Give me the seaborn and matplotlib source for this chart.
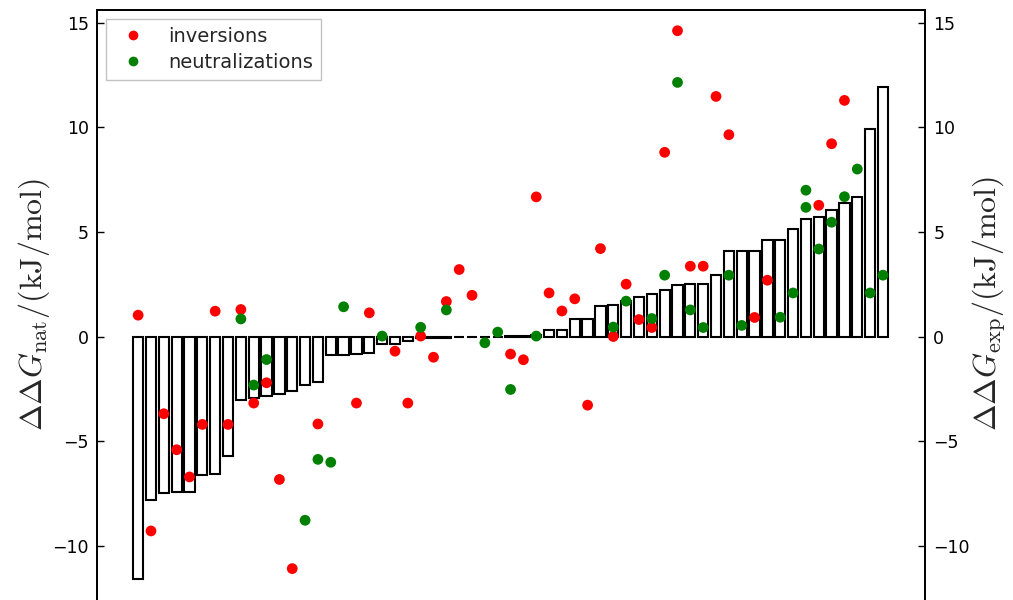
import numpy as np
import pandas as pd
import matplotlib
matplotlib.use("Agg")
import matplotlib.pyplot as plt
from matplotlib.lines import Line2D
import seaborn as sns

# Native-state stability change of each mutant, sorted ascending (kJ/mol)
ddg_nat = [
    -11.6, -7.83, -7.5, -7.45, -7.42, -6.6, -6.55, -5.7, -3.04, -2.93,
    -2.82, -2.74, -2.6, -2.34, -2.18, -0.89, -0.88, -0.85, -0.81, -0.38,
    -0.35, -0.2, -0.07, -0.06, -0.05, -0.02, -0.01, 0.0, 0.0, 0.03,
    0.04, 0.05, 0.33, 0.33, 0.86, 0.86, 1.45, 1.51, 1.69, 1.88,
    2.05, 2.23, 2.47, 2.5, 2.51, 2.93, 4.1, 4.1, 4.1, 4.63,
    4.63, 5.14, 5.63, 5.71, 6.06, 6.38, 6.67, 9.91, 11.92,
]

# Experimental values for charge inversions (mutant number, kJ/mol)
inv_pos = [1, 2, 3, 4, 5, 6, 7, 8, 9, 10, 11, 12, 13, 15, 18, 19, 21, 22,
           23, 24, 25, 26, 27, 30, 31, 32, 33, 34, 35, 36, 37, 38, 39, 40,
           41, 42, 43, 44, 45, 46, 47, 49, 50, 54, 55, 56]
inv_val = [1.02, -9.29, -3.69, -5.41, -6.71, -4.2, 1.21, -4.2, 1.29, -3.18,
           -2.21, -6.83, -11.09, -4.18, -3.18, 1.13, -0.7, -3.18,
           0.02, -0.99, 1.67, 3.2, 1.97, -0.84, -1.11, 6.67, 2.08, 1.22,
           1.8, -3.28, 4.2, 0.0, 2.5, 0.81,
           0.43, 8.8, 14.61, 3.36, 3.36, 11.47, 9.64, 0.91, 2.69, 6.27,
           9.21, 11.28]

# Experimental values for charge neutralizations (mutant number, kJ/mol)
neu_pos = [9, 10, 11, 14, 15, 16, 17, 20, 23, 25, 28, 29, 30, 32, 38, 39,
           41, 42, 43, 44, 45, 47, 48, 51, 52, 53, 53, 54, 55, 56, 57, 58, 59]
neu_val = [0.84, -2.32, -1.1, -8.78, -5.87, -6.01, 1.42, 0.02, 0.44, 1.27,
           -0.3, 0.21, -2.53, 0.02, 0.45, 1.69,
           0.86, 2.93, 12.14, 1.27, 0.43, 2.93, 0.53, 0.92, 2.08, 6.99, 6.17,
           4.18, 5.46, 6.68, 8.0, 2.08, 2.93]

series_names = ["inversions", "neutralizations"]
series_colors = {"inversions": "#ff0000", "neutralizations": "#008000"}
yticks = [-10, -5, 0, 5, 10, 15]

sns.set_theme(style="white")
plt.rcParams.update({
    "font.family": ["DejaVu Sans"],
    "mathtext.fontset": "cm",
    "axes.edgecolor": "black",
    "axes.linewidth": 1.3,
})

fig = plt.figure(figsize=(10.13, 6.0), dpi=100)
ax = fig.add_axes([0.0958, -0.01433, 0.8173, 0.99767])

bars = pd.DataFrame({"pos": np.arange(len(ddg_nat)), "ddg": ddg_nat})
sns.barplot(data=bars, x="pos", y="ddg", native_scale=True, width=0.8,
            color="white", saturation=1, edgecolor="black", linewidth=1.5,
            errorbar=None, ax=ax)

pts = pd.DataFrame({
    "pos": np.r_[inv_pos, neu_pos] - 1,
    "ddg": np.r_[inv_val, neu_val],
    "kind": ["inversions"] * len(inv_pos) + ["neutralizations"] * len(neu_pos),
})
sns.scatterplot(data=pts, x="pos", y="ddg", hue="kind", hue_order=series_names,
                palette=series_colors, s=60, linewidth=0, legend=False,
                ax=ax, zorder=3)

ax.set_xlim(-3.2, 61.27)
ax.set_ylim(-13, 15.6)
ax.set_xticks([])
ax.set_xlabel("")
ax.set_yticks(yticks)
ax.tick_params(axis="y", direction="in", length=5, width=1, pad=6,
               labelsize=12.5, left=True, right=False, colors="black")
ax.set_ylabel(r"$\Delta\Delta G_{\rm nat}/({\rm kJ/mol})$", fontsize=23)
ax.yaxis.set_label_coords(-0.055, 0.508)

ax2 = ax.twinx()
ax2.set_ylim(ax.get_ylim())
ax2.set_yticks(yticks)
ax2.tick_params(axis="y", direction="in", length=5, width=1, pad=6,
                labelsize=12.5, colors="black")
ax2.set_ylabel(r"$\Delta\Delta G_{\rm exp}/({\rm kJ/mol})$", fontsize=23)
ax2.yaxis.set_label_coords(1.055, 0.51)
for side in ["top", "bottom", "left", "right"]:
    ax2.spines[side].set_linewidth(1.3)
    ax2.spines[side].set_color("black")

handles = [Line2D([], [], marker="o", linestyle="", markersize=7,
                  markerfacecolor=series_colors[n], markeredgewidth=0)
           for n in series_names]
leg = ax.legend(handles, series_names, loc="upper left", fontsize=14,
                frameon=True, fancybox=False, edgecolor="0.7",
                borderaxespad=0.45, numpoints=1, labelspacing=0.4)
leg.get_frame().set_linewidth(1.0)

fig.savefig("out.png", dpi=100)
